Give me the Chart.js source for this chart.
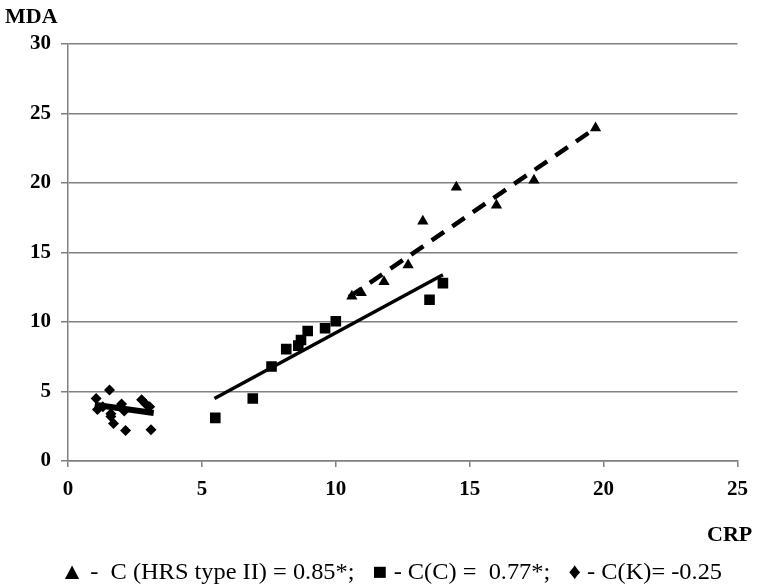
<!DOCTYPE html>
<html>
<head>
<meta charset="utf-8">
<script src="https://cdn.jsdelivr.net/npm/chart.js@4.4.0/dist/chart.umd.min.js"></script>
<style>
  html, body { margin: 0; padding: 0; background: #fff; }
  #wrap { position: relative; width: 760px; height: 588px; }
  .lbl { position: absolute; font-family: "Liberation Serif", "Times New Roman", serif; color: #000; white-space: nowrap; line-height: 1; }
  #ylab { left: 5px; top: 5px; font-size: 22px; font-weight: bold; }
  #xlab { left: 707px; top: 523px; font-size: 22px; font-weight: bold; }
  #legend { left: 60px; top: 560px; font-size: 23px; transform: scaleX(1.06); transform-origin: 0 0; }
</style>
</head>
<body>
<div id="wrap">
  <canvas id="chart" width="760" height="588"></canvas>
  <div class="lbl" id="ylab">MDA</div>
  <div class="lbl" id="xlab">CRP</div>
  <div class="lbl" id="legend">▲ -&nbsp; C (HRS type II) = 0.85*;&nbsp;&nbsp; ■ - C(C) = &nbsp;0.77*;&nbsp;&nbsp; ♦ - C(K)= -0.25</div>
</div>
<script>
// HRS type II (triangles)
const hrsX = [10.6, 10.95, 11.8, 12.7, 13.25, 14.5, 16.0, 17.4, 19.7];
const hrsY = [11.85, 12.1, 12.9, 14.1, 17.25, 19.7, 18.4, 20.2, 23.95];
// group C (squares)
const cX = [5.5, 6.9, 7.6, 8.15, 8.6, 8.7, 8.95, 9.6, 10.0, 13.5, 14.0];
const cY = [3.1, 4.5, 6.8, 8.05, 8.3, 8.7, 9.35, 9.55, 10.05, 11.6, 12.8];
// group K (diamonds)
const kX = [1.05, 1.1, 1.3, 1.55, 1.6, 1.6, 1.7, 2.0, 2.1, 2.15, 2.75, 2.9, 3.05, 3.1];
const kY = [4.5, 3.7, 3.9, 5.1, 3.4, 3.2, 2.7, 4.1, 3.6, 2.2, 4.4, 4.1, 3.9, 2.25];
// trend lines (end points)
const hrsFitX = [10.5, 19.7];
const hrsFitY = [11.8, 23.95];
const cFitX = [5.47, 14.0];
const cFitY = [4.5, 13.4];
const kFitX = [1.0, 3.2];
const kFitY = [4.05, 3.45];

const xTicks = [0, 5, 10, 15, 20, 25];
const yTicks = [0, 5, 10, 15, 20, 25, 30];

const pts = (xs, ys) => xs.map((x, i) => ({ x: x, y: ys[i] }));

const tickFont = { family: '"Liberation Serif", "Times New Roman", serif', size: 21, weight: 'bold', lineHeight: 1 };

new Chart(document.getElementById('chart').getContext('2d'), {
  type: 'scatter',
  data: {
    datasets: [
      { label: 'HRS fit', type: 'line', data: pts(hrsFitX, hrsFitY), borderColor: '#000', borderWidth: 4.5,
        borderDash: [15, 10], pointRadius: 0, fill: false },
      { label: 'C fit', type: 'line', data: pts(cFitX, cFitY), borderColor: '#000', borderWidth: 3.5,
        pointRadius: 0, fill: false },
      { label: 'K fit', type: 'line', data: pts(kFitX, kFitY), borderColor: '#000', borderWidth: 6,
        pointRadius: 0, fill: false },
      { label: 'HRS type II', data: pts(hrsX, hrsY), pointStyle: 'triangle', pointRadius: 6.5,
        backgroundColor: '#000', borderColor: '#000', borderWidth: 0 },
      { label: 'C', data: pts(cX, cY), pointStyle: 'rect', pointRadius: 7.5,
        backgroundColor: '#000', borderColor: '#000', borderWidth: 0 },
      { label: 'K', data: pts(kX, kY), pointStyle: 'rectRot', pointRadius: 5.5,
        backgroundColor: '#000', borderColor: '#000', borderWidth: 0 }
    ]
  },
  options: {
    responsive: false,
    animation: false,
    layout: { padding: { top: 44, right: 20, bottom: 82, left: 0 } },
    plugins: { legend: { display: false }, tooltip: { enabled: false } },
    scales: {
      x: {
        type: 'linear', min: 0, max: 25,
        afterBuildTicks: s => { s.ticks = xTicks.map(v => ({ value: v })); },
        afterFit: s => { s.height = 45; },
        border: { color: '#808080', width: 1.5 },
        grid: { display: true, drawOnChartArea: false, drawTicks: true, tickLength: 6, color: '#808080', lineWidth: 1.5 },
        ticks: { color: '#000', font: tickFont, padding: 12, maxRotation: 0 }
      },
      y: {
        type: 'linear', min: 0, max: 30,
        afterBuildTicks: s => { s.ticks = yTicks.map(v => ({ value: v })); },
        afterFit: s => { s.width = 68; },
        border: { color: '#808080', width: 1.5 },
        grid: { color: '#808080', lineWidth: 1.5, tickLength: 7 },
        ticks: { color: '#000', font: tickFont, padding: 10 }
      }
    }
  }
});
</script>
</body>
</html>
